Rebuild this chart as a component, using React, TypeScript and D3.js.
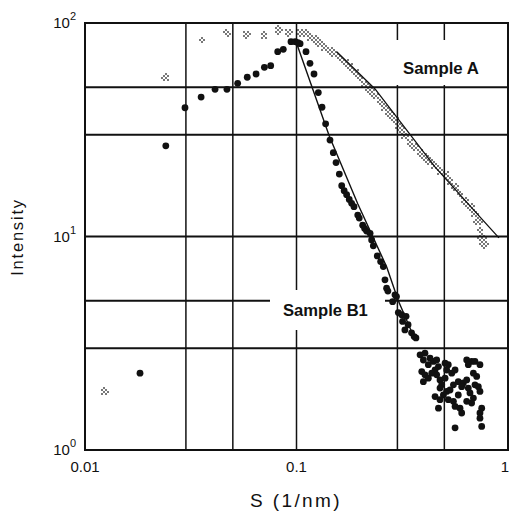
import React, { useMemo } from "react";
import * as d3 from "d3";

const WIDTH = 510;
const HEIGHT = 512;

// Axis ticks and grid
const xTickValues = [0.01, 0.1, 1];
const xTickLabels = ["0.01", "0.1", "1"];
const yTickValues = [1, 10, 100];
const yTickExponents = ["0", "1", "2"];
const xGridValues = [0.03, 0.05, 0.1, 0.3, 0.5];
const yGridValues = [3, 5, 10, 30, 50];

// Sample B1: scattering profile (S in 1/nm, intensity)
const sampleB1Profile: [number, number][] = [
  [0.0182, 2.29], [0.0241, 26.6], [0.0297, 40.1], [0.0354, 45.0], [0.0412, 48.9],
  [0.0469, 48.9], [0.0527, 52.2], [0.0585, 55.7], [0.0644, 57.7], [0.0705, 62.0],
  [0.0755, 63.1], [0.0815, 73.4], [0.0866, 75.3], [0.0942, 81.8], [0.0986, 81.8],
  [0.1015, 80.9], [0.104, 80.0], [0.1109, 73.4], [0.1158, 64.7], [0.121, 57.7],
  [0.1268, 47.2], [0.132, 40.3], [0.1373, 33.7], [0.144, 28.3], [0.1493, 24.7],
  [0.1538, 22.2], [0.1594, 19.6], [0.1636, 17.3], [0.168, 16.4], [0.1726, 15.7],
  [0.1776, 14.9], [0.1823, 14.3], [0.187, 13.8], [0.1948, 12.6], [0.198, 12.2],
  [0.2056, 11.3], [0.21, 10.9], [0.2145, 10.6], [0.2228, 10.35], [0.2266, 9.64],
  [0.2308, 9.04], [0.241, 8.11], [0.2499, 7.63], [0.2573, 7.23], [0.262, 6.27],
  [0.2667, 5.73], [0.2705, 5.55], [0.2848, 4.95], [0.2922, 5.33], [0.297, 5.23],
  [0.303, 4.4], [0.3142, 4.3], [0.3174, 4.0], [0.3254, 3.65], [0.3297, 4.23],
  [0.337, 3.86], [0.35, 3.54], [0.36, 3.4], [0.367, 3.35],
];

// Sample B1: high-S tail
const sampleB1Tail: [number, number][] = [
  [0.384, 2.79], [0.405, 2.84], [0.398, 2.64], [0.428, 2.69], [0.42, 2.51],
  [0.444, 2.6], [0.46, 2.64], [0.469, 2.46], [0.452, 2.37], [0.391, 2.33],
  [0.405, 2.25], [0.398, 2.09], [0.436, 2.29], [0.42, 2.17], [0.46, 2.25],
  [0.477, 2.13], [0.486, 2.02], [0.504, 2.17], [0.513, 2.37], [0.522, 2.51],
  [0.504, 2.55], [0.542, 2.29], [0.562, 2.37], [0.582, 2.09], [0.552, 2.02],
  [0.532, 1.91], [0.513, 1.88], [0.495, 1.81], [0.477, 1.95], [0.452, 1.78],
  [0.477, 1.72], [0.469, 1.57], [0.522, 1.72], [0.552, 1.69], [0.562, 1.6],
  [0.593, 1.57], [0.604, 1.49], [0.582, 1.81], [0.615, 2.06], [0.638, 2.13],
  [0.649, 1.95], [0.661, 1.85], [0.686, 1.75], [0.673, 1.66], [0.698, 2.02],
  [0.724, 1.98], [0.737, 1.88], [0.711, 2.21], [0.686, 2.29], [0.673, 2.6],
  [0.638, 2.64], [0.649, 2.51], [0.698, 2.6], [0.737, 2.51], [0.751, 1.57],
  [0.737, 1.49], [0.737, 1.41], [0.751, 1.29], [0.562, 1.27], [0.604, 1.98],
  [0.638, 1.69],
];

// Sample A: scattering profile
const sampleA: [number, number][] = [
  [0.01243, 1.88], [0.0241, 55.5], [0.0356, 83.2], [0.0472, 89.5], [0.0582, 87.9],
  [0.0702, 87.9], [0.082, 92.7], [0.0915, 90.1],
  [0.1039, 89.8], [0.1097, 89.3], [0.1158, 86.5], [0.1223, 83.3], [0.1292, 80.2],
  [0.1364, 76.8], [0.144, 74.4], [0.1521, 71.6], [0.1606, 68.6], [0.1696, 65.3],
  [0.1791, 62.2], [0.1891, 58.6], [0.1997, 55.3], [0.2109, 51.8], [0.2226, 48.6],
  [0.2351, 45.5], [0.2482, 42.7], [0.2621, 40.0], [0.2768, 37.5], [0.2922, 35.1],
  [0.3086, 32.2], [0.3258, 29.6], [0.344, 27.4], [0.3633, 26.0], [0.3836, 24.6],
  [0.4051, 23.6], [0.4277, 22.4], [0.4516, 21.4], [0.4769, 20.3], [0.5036, 19.6],
  [0.5317, 18.2], [0.5614, 16.9], [0.5929, 15.8], [0.6261, 14.7], [0.6611, 13.8],
  [0.6982, 12.8], [0.7214, 11.8], [0.7372, 10.7], [0.7535, 9.85], [0.77, 9.14],
];

// Fitted curves
const fitA: [number, number][] = [
  [0.1549, 73.4], [0.2351, 49.1], [0.4516, 21.2], [0.7238, 12.6], [0.906, 9.85],
];
const fitB1: [number, number][] = [
  [0.1, 80.6], [0.143, 29.5], [0.195, 14.2], [0.267, 7.2], [0.303, 5.0], [0.358, 3.4],
];

const FONT = "'Liberation Sans', Arial, Helvetica, sans-serif";
const INK = "#111";

export default function App() {
  const x = d3.scaleLog().domain([0.01, 1]).range([85, 508]);
  const y = d3.scaleLog().domain([1, 100]).range([450, 23]);

  const line = d3
    .line<[number, number]>()
    .x((d) => x(d[0]))
    .y((d) => y(d[1]));

  // Stippled markers for sample A, snapped to a diagonal dot lattice
  const stipple = useMemo(() => {
    const pitch = 2;
    const reach = 4.1;
    const seen = new Set<string>();
    const dots: [number, number][] = [];
    for (const [s, v] of sampleA) {
      const px = x(s);
      const py = y(v);
      const i0 = Math.floor((px - reach) / pitch);
      const i1 = Math.ceil((px + reach) / pitch);
      const j0 = Math.floor((py - reach) / pitch);
      const j1 = Math.ceil((py + reach) / pitch);
      for (let i = i0; i <= i1; i++) {
        for (let j = j0; j <= j1; j++) {
          if (Math.abs(i + j) % 2 !== 0) continue;
          const gx = i * pitch;
          const gy = j * pitch;
          if (Math.hypot(gx - px, gy - py) > reach) continue;
          const key = `${i},${j}`;
          if (seen.has(key)) continue;
          seen.add(key);
          dots.push([gx, gy]);
        }
      }
    }
    return dots;
  }, []);

  const [x0, x1] = x.range();
  const [y0, y1] = y.range();

  return (
    <svg
      width={WIDTH}
      height={HEIGHT}
      style={{ position: "absolute", left: 0, top: 0, background: "#fff" }}
    >
      <rect x={0} y={0} width={WIDTH} height={HEIGHT} fill="#fff" />

      {/* grid */}
      {xGridValues.map((v) => (
        <line key={`gx${v}`} x1={x(v)} x2={x(v)} y1={y1} y2={y0} stroke={INK} strokeWidth={1.5} />
      ))}
      {yGridValues.map((v) => (
        <line key={`gy${v}`} x1={x0} x2={x1} y1={y(v)} y2={y(v)} stroke={INK} strokeWidth={2} />
      ))}

      {/* frame */}
      <rect x={x0} y={y1} width={x1 - x0} height={y0 - y1} fill="none" stroke={INK} strokeWidth={2} />

      {/* label backgrounds */}
      <rect x={390} y={40} width={114} height={45} fill="#fff" />
      <rect x={270} y={290} width={115} height={40} fill="#fff" />

      {/* fitted curves */}
      <path d={line(fitA) ?? ""} fill="none" stroke={INK} strokeWidth={1.3} />
      <path d={line(fitB1) ?? ""} fill="none" stroke={INK} strokeWidth={1.4} />

      {/* sample A stipple markers */}
      {stipple.map(([gx, gy], k) => (
        <rect key={`a${k}`} x={gx - 0.75} y={gy - 0.75} width={1.5} height={1.5} fill={INK} />
      ))}

      {/* sample B1 markers */}
      {[...sampleB1Profile, ...sampleB1Tail].map(([s, v], k) => (
        <circle key={`b${k}`} cx={x(s)} cy={y(v)} r={3.4} fill={INK} />
      ))}

      {/* series labels */}
      <text x={403} y={74} fontFamily={FONT} fontSize={16.8} fontWeight="bold" fill={INK}>
        Sample A
      </text>
      <text x={283} y={316} fontFamily={FONT} fontSize={16.6} fontWeight="bold" fill={INK}>
        Sample B1
      </text>

      {/* y tick labels */}
      {yTickValues.map((v, k) => (
        <text key={`yt${v}`} x={76} y={y(v) + 5} textAnchor="end" fontFamily={FONT} fontSize={15} fill={INK}>
          <tspan>10</tspan>
          <tspan dy={-8} fontSize={11}>
            {yTickExponents[k]}
          </tspan>
        </text>
      ))}

      {/* x tick labels */}
      {xTickValues.map((v, k) => (
        <text
          key={`xt${v}`}
          x={k === xTickValues.length - 1 ? WIDTH - 1 : x(v)}
          y={472}
          textAnchor={k === xTickValues.length - 1 ? "end" : "middle"}
          fontFamily={FONT}
          fontSize={15}
          fill={INK}
        >
          {xTickLabels[k]}
        </text>
      ))}

      {/* axis titles */}
      <text x={296} y={507} textAnchor="middle" fontFamily={FONT} fontSize={19} letterSpacing={2.4} fill={INK}>
        S (1/nm)
      </text>
      <text
        transform="translate(23,237) rotate(-90)"
        textAnchor="middle"
        fontFamily={FONT}
        fontSize={16.5}
        letterSpacing={1.8}
        fill={INK}
      >
        Intensity
      </text>
    </svg>
  );
}
